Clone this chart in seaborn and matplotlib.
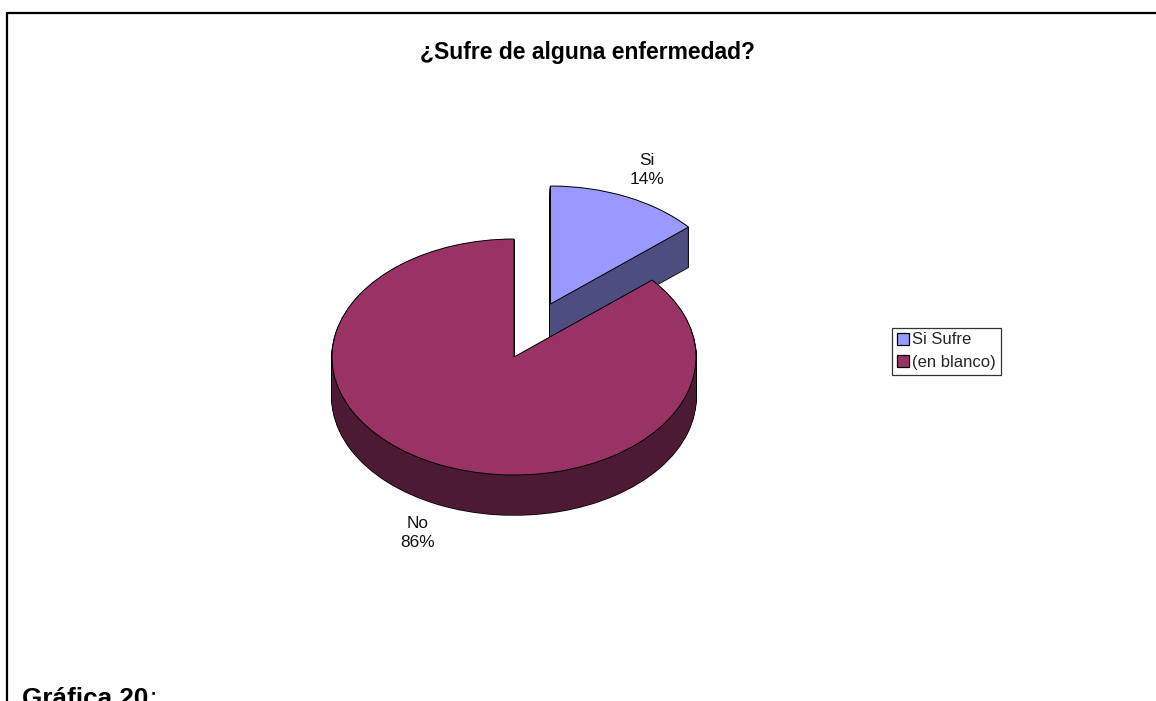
import numpy as np
import seaborn as sns
import matplotlib.pyplot as plt
from matplotlib.patches import Patch

# values
labels = ['Si', 'No']
values = [13.7, 86.3]
legend_labels = ['Si Sufre', '(en blanco)']
title = '¿Sufre de alguna enfermedad?'
caption = 'Gráfica 20'

W, H = 1156, 701

sns.set_theme(style='white')
plt.rcParams['font.family'] = ['Liberation Sans', 'DejaVu Sans']
colors = sns.color_palette(['#9999FF', '#993366'])
dark = [tuple(np.array(c) * 0.5) for c in colors]

fig = plt.figure(figsize=(W / 100, H / 100), dpi=100, facecolor='white')
ax = fig.add_axes([0, 0, 1, 1])

# pie centre, ellipse radii and thickness in pixels
cx, cy, rx, ry, depth = 514, 357, 182, 118, 40
# pulled out slice moves by this many pixels
shift_x, shift_y = 36.5, 53
steps = np.linspace(depth / ry, 0, 41)


def draw_pie(offset, cols, index, z, **kw):
    center = (0, -offset)
    if index == 0:
        center = (shift_x / rx, shift_y / ry - offset)
    wedges, _ = ax.pie(values, colors=cols, startangle=90, counterclock=False,
                       center=center, wedgeprops=kw)
    for i, w in enumerate(wedges):
        if i == index:
            w.set_zorder(z)
        else:
            w.remove()


for idx, base in [(0, 1), (1, 5)]:
    # thick black layers first, the dark fill on top leaves just the silhouette
    for s in steps[:-1]:
        draw_pie(s, dark, idx, base, edgecolor='black', linewidth=1.1)
    for s in steps[:-1]:
        draw_pie(s, dark, idx, base + 1, edgecolor='none', linewidth=0)
    draw_pie(0, colors, idx, base + 2, edgecolor='black', linewidth=0.7)

ax.set_aspect('auto')
ax.set_xlim(-cx / rx, (W - cx) / rx)
ax.set_ylim((cy - H) / ry, cy / ry)
ax.axis('off')

# chart frame: top and left only
fig.add_artist(plt.Line2D([6.5 / W, 1], [1 - 13 / H, 1 - 13 / H], color='black', lw=1.6))
fig.add_artist(plt.Line2D([6.5 / W, 6.5 / W], [0, 1 - 12.5 / H], color='black', lw=1.6))

fig.text(588 / W, 1 - 53 / H, title, fontsize=16.5, fontweight='bold',
         ha='center', va='center', color='black')
fig.text(647 / W, 1 - 170 / H, f'{labels[0]}\n{values[0]:.0f}%', fontsize=12.4,
         ha='center', va='center', color='#111111', linespacing=1.3)
fig.text(418 / W, 1 - 533 / H, f'{labels[1]}\n{values[1]:.0f}%', fontsize=12.4,
         ha='center', va='center', color='#111111', linespacing=1.3)
fig.text(22 / W, 1 - 706 / H, caption, fontsize=18.8, fontweight='bold',
         ha='left', va='baseline', color='black')
fig.text(150 / W, 1 - 706 / H, ':', fontsize=18.8, ha='left', va='baseline', color='black')

handles = [Patch(facecolor=c, edgecolor='black', linewidth=0.9) for c in colors]
leg = fig.legend(handles, legend_labels, loc='lower left',
                 bbox_to_anchor=(891.5 / W, 1 - 375 / H), borderaxespad=0, fontsize=12,
                 frameon=True, fancybox=False, edgecolor='#333333', framealpha=1,
                 handlelength=0.72, handleheight=0.72, handletextpad=0.24,
                 labelspacing=0.45, borderpad=0.3)
leg.get_frame().set_linewidth(0.9)

fig.savefig('out.png', dpi=100)
